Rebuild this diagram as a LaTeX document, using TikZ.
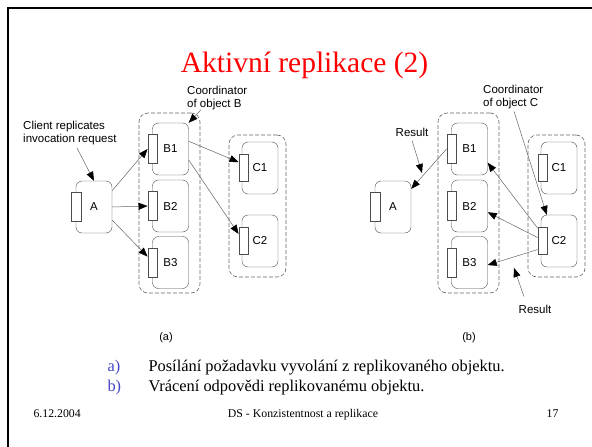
\documentclass[tikz,border=0pt]{standalone}
\usepackage{fontspec}
\setmainfont{Liberation Serif}
\setsansfont{Liberation Sans}
\usetikzlibrary{arrows.meta,positioning}
\definecolor{titlered}{RGB}{255,0,0}
\definecolor{itemblue}{RGB}{70,70,200}

\tikzset{
  obj/.style={draw=black!70, rounded corners=6pt, minimum width=36pt, minimum height=52pt,
    inner sep=0pt, font=\sffamily\fontsize{11.5}{12}\selectfont},
  iface/.style={draw=black!70, fill=white, minimum width=9.5pt, inner sep=0pt},
  group/.style={draw=black!60, line width=0.6pt, dash pattern=on 4pt off 2pt, rounded corners=9pt, inner sep=0pt},
  call/.style={draw=black!60, line width=0.5pt, -{Triangle[length=9pt,width=7pt,black]}},
  note/.style={font=\sffamily\fontsize{11.5}{13.2}\selectfont, align=left, inner sep=0pt},
}

\begin{document}
\begin{tikzpicture}[x=1pt,y=-1pt]
    % Background and frame
    \useasboundingbox (0,0) rectangle (592,447);
    \fill[white] (0,0) rectangle (592,447);
    \draw[line width=2.5pt] (8,447) -- (8,8) -- (592,8);

    % Title
    \node[titlered, font=\fontsize{29.5}{32}\selectfont, anchor=base] (title) at (304.5,72) {Aktivní replikace (2)};

    % Both panels: groups, objects and their interfaces
    \foreach \p/\dx in {l/0, r/299} {
      \node[group, minimum width=61pt, minimum height=180pt] (\p-Bgrp) at (\dx+169.5,203) {};
      \node[group, minimum width=57pt, minimum height=142pt] (\p-Cgrp) at (\dx+257.5,206) {};
      \node[obj] (\p-A) at (\dx+94,207) {A};
      \node[obj] (\p-B1) at (\dx+170.5,149) {B1};
      \node[obj] (\p-B2) at (\dx+170.5,206) {B2};
      \node[obj] (\p-B3) at (\dx+170.5,262.5) {B3};
      \node[obj] (\p-C1) at (\dx+260,168) {C1};
      \node[obj] (\p-C2) at (\dx+260,241) {C2};
      \node[iface, minimum height=29pt] (\p-Ai) at (\dx+76,207) {};
      \node[iface, minimum height=29pt] (\p-B1i) at (\dx+152.5,149) {};
      \node[iface, minimum height=29pt] (\p-B2i) at (\dx+152.5,206) {};
      \node[iface, minimum height=29pt] (\p-B3i) at (\dx+152.5,262.5) {};
      \node[iface, minimum height=27pt] (\p-C1i) at (\dx+243.5,168) {};
      \node[iface, minimum height=27pt] (\p-C2i) at (\dx+243.5,241) {};
    }

    % (a) invocation
    \draw[call] (l-A.42) -- (l-B1i.west);
    \draw[call] (l-A.east) -- (l-B2i.west);
    \draw[call] (l-A.-36) -- (l-B3i.130);
    \draw[call] (l-B1.23) -- (l-C1i.130);
    \draw[call] (l-B1.-31) -- (l-C2i.125);

    % (b) results
    \draw[call] (r-B1i.west) -- (r-A.45);
    \draw[call] (r-C2i.111) -- (r-B1.-37);
    \draw[call] (r-C2i.145) -- (r-B2.-19);
    \draw[call] (r-C2i.240) -- (r-B3.-8);

    % Notes
    \node[note, anchor=north west] (clientnote) at (23,120.5) {Client replicates\\invocation request};
    \node[note, anchor=north west] (coordB) at (187,85.5) {Coordinator\\of object B};
    \node[note, anchor=north west] (coordC) at (483,85) {Coordinator\\of object C};
    \node[note] (resTop) at (412,132) {Result};
    \node[note] (resBot) at (535,309) {Result};
    \coordinate (resTopTip) at (422,173);
    \coordinate (resBotTip) at (514,268);

    \draw[call] ([xshift=7pt,yshift=-3pt]clientnote.south) -- (l-A.north);
    \draw[call] ([xshift=14pt]coordB.south west) -- (l-B1.north east);
    \draw[call] ([xshift=31pt,yshift=-2pt]coordC.south west) -- (r-C2.115);
    \draw[call] ([yshift=-4pt]resTop.south) -- (resTopTip);
    \draw[call] ([xshift=-11pt,yshift=8pt]resBot.north) -- (resBotTip);

    % Captions
    \node[font=\sffamily\fontsize{11}{12}\selectfont] (capA) at (166,338) {(a)};
    \node[font=\sffamily\fontsize{11}{12}\selectfont] (capB) at (469,338) {(b)};

    % List
    \node[itemblue, font=\fontsize{16.4}{18}\selectfont, anchor=base west] (itemA) at (104,371) {a)};
    \node[font=\fontsize{16.4}{18}\selectfont, anchor=base west] (textA) at (145,371) {Posílání požadavku vyvolání z replikovaného objektu.};
    \node[itemblue, font=\fontsize{16.4}{18}\selectfont, anchor=base west] (itemB) at (104,391) {b)};
    \node[font=\fontsize{16.4}{18}\selectfont, anchor=base west] (textB) at (145,391) {Vrácení odpovědi replikovanému objektu.};

    % Footer
    \node[font=\fontsize{11.8}{13}\selectfont, anchor=base west] (date) at (30,417) {6.12.2004};
    \node[font=\fontsize{11.8}{13}\selectfont, anchor=base] (footer) at (303,417) {DS - Konzistentnost a replikace};
    \node[font=\fontsize{11.8}{13}\selectfont, anchor=base east] (page) at (562,417) {17};
\end{tikzpicture}
\end{document}
